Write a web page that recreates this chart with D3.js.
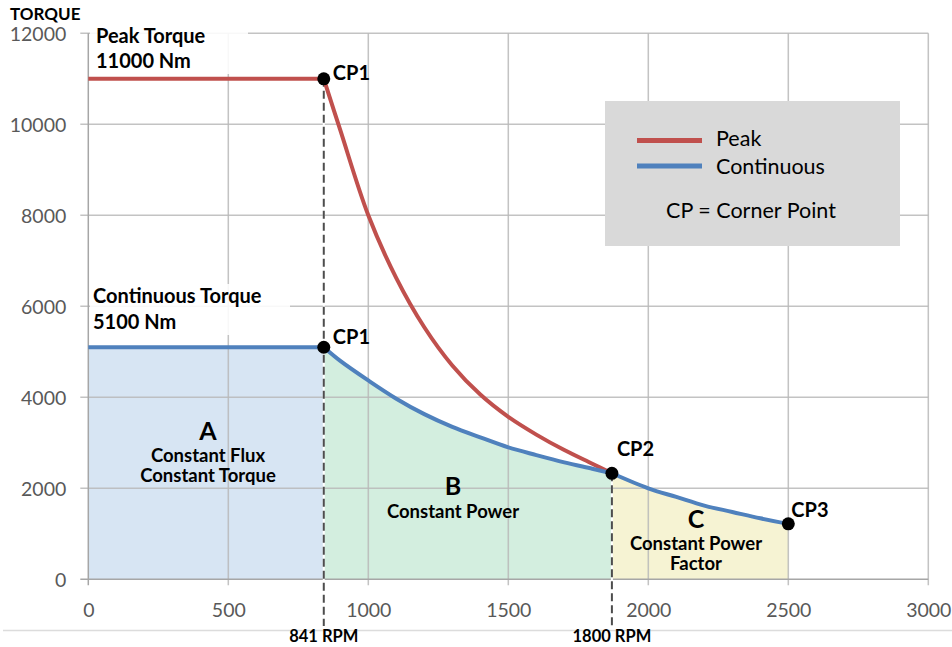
<!DOCTYPE html>
<html>
<head>
<meta charset="utf-8">
<script src="https://cdn.jsdelivr.net/npm/d3@7"></script>
<style>
  html, body { margin: 0; padding: 0; background: #fff; }
  svg { display: block; font-family: Lato, "Open Sans", sans-serif; }
</style>
</head>
<body>
<svg id="chart" width="952" height="647"></svg>
<script>
// ---- data ----
const xTicks = [0, 500, 1000, 1500, 2000, 2500, 3000];
const yTicks = [0, 2000, 4000, 6000, 8000, 10000, 12000];

const peakRpm    = [0, 841, 900, 1000, 1100, 1200, 1300, 1400, 1500, 1600, 1700, 1800, 1870];
const peakTorque = [11000, 11000, 9870, 8000, 6620, 5540, 4700, 4060, 3570, 3180, 2840, 2540, 2330];

const contRpm    = [0, 841, 900, 1000, 1100, 1200, 1300, 1400, 1500, 1600, 1700, 1800, 1870, 2000, 2100, 2200, 2300, 2400, 2500];
const contTorque = [5100, 5100, 4800, 4370, 3970, 3630, 3350, 3120, 2900, 2730, 2570, 2430, 2330, 2000, 1810, 1620, 1480, 1340, 1220];

const cp1Rpm = 841, cp2Rpm = 1870, cp3Rpm = 2500;
const cornerPoints = [
  { rpm: 841,  torque: 11000, label: "CP1" },
  { rpm: 841,  torque: 5100,  label: "CP1" },
  { rpm: 1870, torque: 2330,  label: "CP2" },
  { rpm: 2500, torque: 1220,  label: "CP3" }
];
const rpmLabels = [ { rpm: 841, text: "841 RPM" }, { rpm: 1870, text: "1800 RPM" } ];

// ---- setup ----
const svg = d3.select("#chart");
const x = d3.scaleLinear().domain([0, 3000]).range([88.3, 928.3]);
const y = d3.scaleLinear().domain([0, 12000]).range([579.3, 33.3]);

const peak = peakRpm.map((r, i) => ({ rpm: r, t: peakTorque[i] }));
const cont = contRpm.map((r, i) => ({ rpm: r, t: contTorque[i] }));

const segA = cont.filter(d => d.rpm <= cp1Rpm);
const segB = cont.filter(d => d.rpm >= cp1Rpm && d.rpm <= cp2Rpm);
const segC = cont.filter(d => d.rpm >= cp2Rpm && d.rpm <= cp3Rpm);
const peakFlat = peak.filter(d => d.rpm <= cp1Rpm);
const peakCurve = peak.filter(d => d.rpm >= cp1Rpm);

const smooth = d3.curveCatmullRom.alpha(0.5);

// bottom separator line
svg.append("line").attr("x1", 3).attr("x2", 952).attr("y1", 630.5).attr("y2", 630.5)
  .attr("stroke", "#dcdcdc").attr("stroke-width", 1.5);

// ---- region fills ----
const areaLin = d3.area().x(d => x(d.rpm)).y0(y(0)).y1(d => y(d.t)).curve(d3.curveLinear);
const areaSm  = d3.area().x(d => x(d.rpm)).y0(y(0)).y1(d => y(d.t)).curve(smooth);
svg.append("path").attr("d", areaLin(segA)).attr("fill", "#d7e5f3");
svg.append("path").attr("d", areaSm(segB)).attr("fill", "#d3eedf");
svg.append("path").attr("d", areaSm(segC)).attr("fill", "#f6f3d3");

// ---- gridlines ----
const grid = svg.append("g");
grid.selectAll("line.v").data(xTicks.filter(d => d > 0)).join("line")
  .attr("x1", d => x(d)).attr("x2", d => x(d)).attr("y1", y(12000)).attr("y2", y(0) + 6)
  .attr("stroke", "#b9b9b9").attr("stroke-opacity", 0.85).attr("stroke-width", 1.5);
grid.selectAll("line.h").data(yTicks.filter(d => d > 0)).join("line")
  .attr("x1", x(0) - 8).attr("x2", x(3000)).attr("y1", d => y(d)).attr("y2", d => y(d))
  .attr("stroke", "#b9b9b9").attr("stroke-opacity", 0.85).attr("stroke-width", 1.5);

// axes lines
svg.append("line").attr("x1", x(0)).attr("x2", x(0)).attr("y1", y(12000)).attr("y2", y(0) + 6)
  .attr("stroke", "#a6a6a6").attr("stroke-width", 1.5);
svg.append("line").attr("x1", x(0) - 8).attr("x2", x(3000)).attr("y1", y(0)).attr("y2", y(0))
  .attr("stroke", "#a6a6a6").attr("stroke-width", 1.5);

// white label backgrounds (partially mask grid)
svg.append("rect").attr("x", 90).attr("y", 27).attr("width", 158).attr("height", 47)
  .attr("fill", "#fff").attr("fill-opacity", 0.88);
svg.append("rect").attr("x", 90).attr("y", 284).attr("width", 200).attr("height", 51)
  .attr("fill", "#fff").attr("fill-opacity", 0.88);

// ---- axis tick labels ----
const tickFont = 19.5;
const xAxis = d3.axisBottom(x).tickValues(xTicks).tickSize(0).tickFormat(d3.format("d"));
const gx = svg.append("g").attr("transform", `translate(0,${y(0)})`).call(xAxis);
gx.select(".domain").remove();
gx.selectAll("text").attr("y", 38).attr("dy", 0).attr("fill", "#595959")
  .attr("font-size", tickFont).attr("font-family", "Lato, sans-serif");

const yAxis = d3.axisLeft(y).tickValues(yTicks).tickSize(0).tickFormat(d3.format("d"));
const gy = svg.append("g").attr("transform", `translate(${x(0)},0)`).call(yAxis);
gy.select(".domain").remove();
gy.selectAll("text").attr("x", -22).attr("dy", "0.36em").attr("fill", "#595959")
  .attr("font-size", tickFont).attr("font-family", "Lato, sans-serif");

// ---- dashed corner lines ----
const dashG = svg.append("g");
[[cp1Rpm, 11000], [cp2Rpm, 2330]].forEach(([r, t]) => {
  dashG.append("line").attr("x1", x(r)).attr("x2", x(r)).attr("y1", y(t)).attr("y2", 626)
    .attr("stroke", "#fff").attr("stroke-width", 2);
  dashG.append("line").attr("x1", x(r)).attr("x2", x(r)).attr("y1", y(t)).attr("y2", 626)
    .attr("stroke", "#4d4d4d").attr("stroke-width", 2).attr("stroke-dasharray", "8,4");
});

// ---- lines ----
const lineLin = d3.line().x(d => x(d.rpm)).y(d => y(d.t)).curve(d3.curveLinear);
const lineSm  = d3.line().x(d => x(d.rpm)).y(d => y(d.t)).curve(smooth);
const red = "#c0504d", blue = "#4f81bd";
svg.append("path").attr("d", lineLin(peakFlat)).attr("fill", "none").attr("stroke", red).attr("stroke-width", 4);
svg.append("path").attr("d", lineSm(peakCurve)).attr("fill", "none").attr("stroke", red).attr("stroke-width", 4);
svg.append("path").attr("d", lineLin(segA)).attr("fill", "none").attr("stroke", blue).attr("stroke-width", 4);
svg.append("path").attr("d", lineSm(segB)).attr("fill", "none").attr("stroke", blue).attr("stroke-width", 4);
svg.append("path").attr("d", lineSm(segC)).attr("fill", "none").attr("stroke", blue).attr("stroke-width", 4);

// ---- corner points ----
svg.selectAll("circle.cp").data(cornerPoints).join("circle")
  .attr("cx", d => x(d.rpm)).attr("cy", d => y(d.torque)).attr("r", 6.5).attr("fill", "#000");
const cpOffsets = { 0: [9, 1], 1: [9, -3], 2: [5, -17], 3: [3, -7] };
svg.selectAll("text.cp").data(cornerPoints).join("text")
  .attr("x", (d, i) => x(d.rpm) + cpOffsets[i][0])
  .attr("y", (d, i) => y(d.torque) + cpOffsets[i][1])
  .attr("font-size", 20).attr("font-weight", "bold").attr("fill", "#000").text(d => d.label);

// ---- RPM labels ----
svg.selectAll("text.rpm").data(rpmLabels).join("text")
  .attr("x", d => x(d.rpm)).attr("y", 642).attr("text-anchor", "middle")
  .attr("font-size", 16.5).attr("font-weight", "bold").attr("fill", "#000").text(d => d.text);

// ---- annotation text ----
function txt(xp, yp, s, size, anchor, weight) {
  svg.append("text").attr("x", xp).attr("y", yp).attr("font-size", size)
    .attr("font-weight", weight || "bold").attr("text-anchor", anchor || "start")
    .attr("fill", "#000").text(s);
}
txt(10, 20, "TORQUE", 17);
txt(96, 43, "Peak Torque", 20);
txt(96, 68, "11000 Nm", 20);
txt(93, 303, "Continuous Torque", 20);
txt(93, 329, "5100 Nm", 20);
txt(208, 440, "A", 25, "middle");
txt(208, 462, "Constant Flux", 18.5, "middle");
txt(208, 482, "Constant Torque", 18.5, "middle");
txt(453, 495, "B", 25, "middle");
txt(453, 518, "Constant Power", 18.5, "middle");
txt(696, 528, "C", 25, "middle");
txt(696, 550, "Constant Power", 18.5, "middle");
txt(696, 570, "Factor", 18.5, "middle");

// ---- legend ----
const lg = svg.append("g");
lg.append("rect").attr("x", 605).attr("y", 101).attr("width", 295).attr("height", 145).attr("fill", "#d9d9d9");
lg.append("line").attr("x1", 637).attr("x2", 702).attr("y1", 140.5).attr("y2", 140.5).attr("stroke", red).attr("stroke-width", 5);
lg.append("line").attr("x1", 637).attr("x2", 702).attr("y1", 166).attr("y2", 166).attr("stroke", blue).attr("stroke-width", 5);
lg.append("text").attr("x", 716).attr("y", 146).attr("font-size", 21.5).attr("fill", "#000").text("Peak");
lg.append("text").attr("x", 716).attr("y", 174).attr("font-size", 21.5).attr("fill", "#000").text("Continuous");
lg.append("text").attr("x", 751).attr("y", 218).attr("font-size", 21.5).attr("text-anchor", "middle").attr("fill", "#000").text("CP = Corner Point");
</script>
</body>
</html>
